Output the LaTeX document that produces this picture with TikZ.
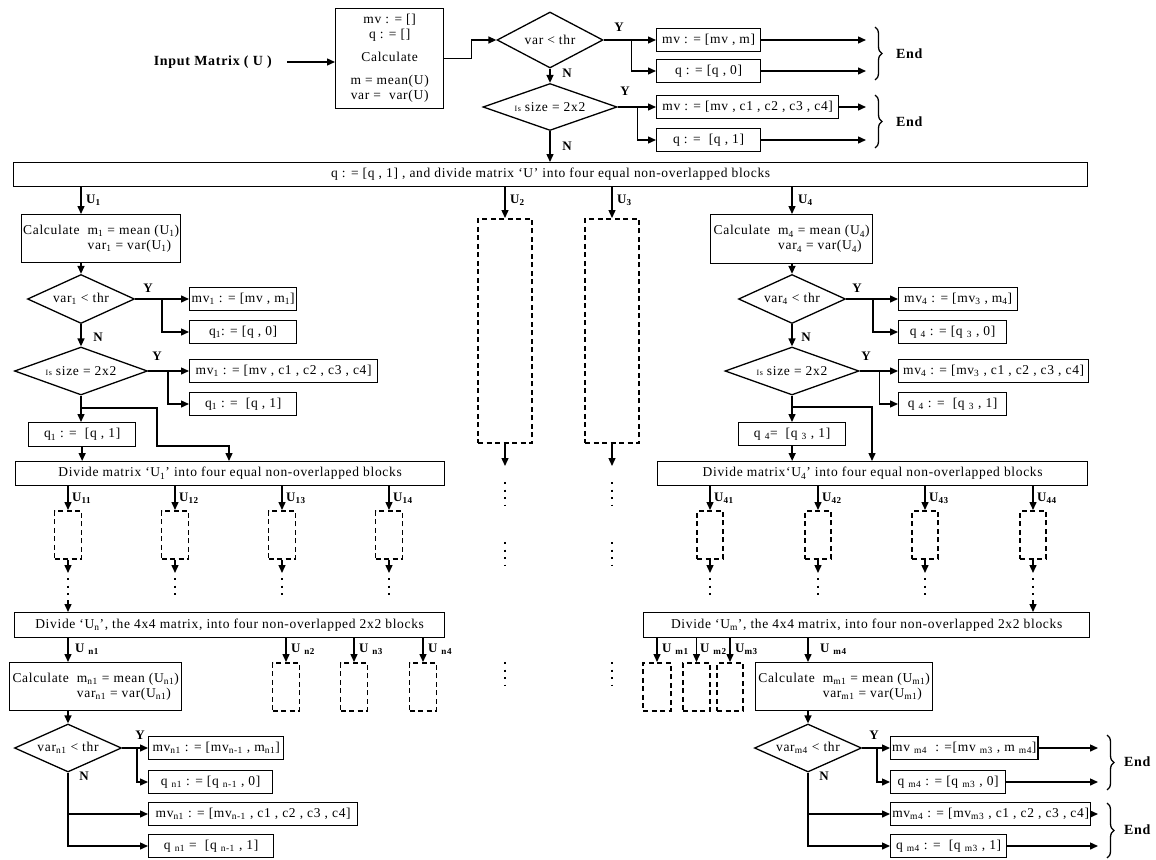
\documentclass[tikz,border=0pt]{standalone}
\usepackage{fontspec}
\setmainfont{Liberation Serif}[LetterSpace=5]
\usetikzlibrary{arrows.meta,shapes.geometric,decorations.pathreplacing,calc}
\newcommand{\sbt}[1]{\textsubscript{#1}}
\newcommand{\smIs}{{\fontsize{8}{9}\selectfont Is}}
\begin{document}
\begin{tikzpicture}[x=1pt,y=-1pt,
 font=\fontsize{13.5}{15}\selectfont,
 every node/.style={inner sep=1pt},
 ln/.style={line width=1.4pt},
 arr/.style={ln,-{Triangle[length=8pt,width=7pt]}},
 bx/.style={draw,line width=1.3pt,inner sep=1.5pt,minimum height=23pt,anchor=west},
 wbox/.style={draw,line width=1.3pt,inner sep=1.5pt,anchor=north west,align=center},
 dia/.style={draw,line width=1.3pt,diamond,inner sep=0pt,aspect=3},
 dbox/.style={draw,line width=1.6pt,dash pattern=on 5pt off 3.5pt,anchor=north,inner sep=0pt},
 lbl/.style={font=\fontsize{13}{15}\selectfont\bfseries,inner sep=0pt},
 dts/.style={line width=2pt,dash pattern=on 2pt off 5.5pt},
 brc/.style={decorate,decoration={brace,amplitude=7pt},line width=1.3pt},
]
\useasboundingbox (0,0) rectangle (1156,859);

% ---------------- top ----------------
\node[lbl,anchor=east,font=\fontsize{14}{16}\selectfont\bfseries] (inp) at (272,62) {Input Matrix ( U )};
\node[wbox,minimum width=108pt,minimum height=100pt] (A) at (335,8)
 {mv : = []\\ q : = []\\[8pt] Calculate\\[8pt] m = mean(U)\\ var = \ var(U)};
\node[dia,minimum width=106pt,minimum height=56pt] (d1) at (550,40) {var < thr};
\node[dia,minimum width=134pt,minimum height=47pt] (d2) at (550,107) {\smIs\ size = 2x2};
\draw[arr] ([xshift=15pt]inp.east) -- (inp.east -| A.west);
\draw[arr] (A.east) -- ++(27,0) |- (d1.west);
\draw[arr] (d1.south) -- (d2.north);
\node[lbl] (n1) at (567,73) {N};
\node[lbl] (y1) at (619,27) {Y};
\node[bx,minimum width=104pt] (mv0) at (656,40) {mv : = [mv , m]};
\node[bx,minimum width=104pt] (q0) at (656,71) {q : = [q , 0]};
\draw[arr] (d1.east) -- (mv0.west);
\draw[arr] ($(d1.east)+(28,0)$) |- (q0.west);
\coordinate (e1) at (866,40); \coordinate (e2) at (866,71);
\draw[arr] (mv0.east) -- (e1);
\draw[arr] (q0.east) -- (e2);
\coordinate (b1t) at (875,27); \coordinate (b1b) at (875,80);
\draw[brc] (b1t) -- (b1b);
\node[lbl,anchor=west,font=\fontsize{14}{16}\selectfont\bfseries] (end1) at (896,54) {End};

\node[lbl] (y2) at (625,91) {Y};
\node[bx,minimum width=182pt] (mc0) at (656,107) {mv : = [mv , c1 , c2 , c3 , c4]};
\node[bx,minimum width=104pt] (q10) at (656,140) {q : = \ [q , 1]};
\draw[arr] (d2.east) -- (mc0.west);
\draw[arr] ($(d2.east)+(20,0)$) |- (q10.west);
\coordinate (e3) at (866,107); \coordinate (e4) at (866,140);
\draw[arr] (mc0.east) -- (e3);
\draw[arr] (q10.east) -- (e4);
\coordinate (b2t) at (875,95); \coordinate (b2b) at (875,148);
\draw[brc] (b2t) -- (b2b);
\node[lbl,anchor=west,font=\fontsize{14}{16}\selectfont\bfseries] (end2) at (896,122) {End};

\node[wbox,minimum width=1074pt,minimum height=24pt] (W) at (13,162)
 {q : = [q , 1] , and divide matrix ‘U’ into four equal non-overlapped blocks};
\draw[arr] (d2.south) -- (d2.south |- W.north);
\node[lbl] (n2) at (567,146) {N};

\coordinate (x1) at (81,0);
\coordinate (x2) at (505,0);
\coordinate (x3) at (612,0);
\coordinate (x4) at (792,0);

% ---------------- U1 column ----------------
\node[wbox,align=left,minimum width=159pt,minimum height=48pt] (c1) at (21,214)
 {Calculate\ \ m\sbt{1} = mean (U\sbt{1})\\ \phantom{Calculate\ \ }var\sbt{1} = var(U\sbt{1})};
\draw[arr] (W.south -| x1) -- (c1.north -| x1);
\node[lbl,anchor=west] (lu1) at (86,200) {U\sbt{1}};

\node[dia,minimum width=107pt,minimum height=49pt] (dv1) at (81,299) {var\sbt{1} < thr};
\draw[arr] (c1.south -| x1) -- (dv1.north);
\node[lbl] (y3) at (148,288) {Y};
\node[bx,minimum width=107pt] (mv1) at (189,299) {mv\sbt{1} : = [mv , m\sbt{1}]};
\node[bx,minimum width=107pt] (q1) at (189,332) {q\sbt{1}: = [q , 0]};
\draw[arr] (dv1.east) -- (mv1.west);
\draw[arr] ($(dv1.east)+(27,0)$) |- (q1.west);
\node[lbl] (n3) at (98,337) {N};

\node[dia,minimum width=133pt,minimum height=48pt] (ds1) at (81,371) {\smIs\ size = 2x2};
\draw[arr] (dv1.south) -- (ds1.north);
\node[lbl] (y4) at (157,356) {Y};
\node[bx,minimum width=188pt] (mc1) at (189,371) {mv\sbt{1} : = [mv , c1 , c2 , c3 , c4]};
\node[bx,minimum width=107pt] (q1b) at (189,404) {q\sbt{1} : = \ [q , 1]};
\draw[arr] (ds1.east) -- (mc1.west);
\draw[arr] ($(ds1.east)+(20,0)$) |- (q1b.west);

\node[wbox,minimum width=107pt,minimum height=24pt] (q1s) at (28,422) {q\sbt{1} : = \ [q , 1]};
\draw[arr] (ds1.south) -- (ds1.south |- q1s.north);
\node[wbox,minimum width=429pt,minimum height=24pt] (D1) at (15,461)
 {Divide matrix ‘U\sbt{1}’ into four equal non-overlapped blocks};
\draw[arr] (q1s.south) -- (q1s.south |- D1.north);
\coordinate (z1) at (81,408);
\draw[arr] (z1) -- (157,408) -- (157,446) -- (229,446) -- ($(D1.north west)+(214,0)$);

\foreach \x/\s in {68/11,175/12,282/13,389/14}{
 \node[dbox,minimum width=27pt,minimum height=48pt] (s\s) at (\x,510) {};
 \draw[arr] (D1.south -| s\s.north) -- (s\s.north);
 \node[lbl,anchor=west] (l\s) at (\x+4,498) {U\sbt{\s}};
 \coordinate (t\s) at (\x,573);
 \draw[arr] (s\s.south) -- (t\s);
 \draw[dts] (\x,578) -- (\x,598);
}

\node[wbox,minimum width=430pt,minimum height=25pt] (Dn) at (14,612)
 {Divide ‘U\sbt{n}’, the 4x4 matrix, into four non-overlapped 2x2 blocks};
\coordinate (f1) at (68,600);
\draw[arr] (f1) -- (f1 |- Dn.north);

\foreach \x/\s in {286/2,354/3,423/4}{
 \node[dbox,minimum width=27pt,minimum height=48pt] (sn\s) at (\x,662) {};
 \draw[arr] (Dn.south -| sn\s.north) -- (sn\s.north);
 \node[lbl,anchor=west] (ln\s) at (\x+5,649) {U \sbt{n\s}};
}

\coordinate (xn) at (68,0);
\node[wbox,align=left,minimum width=172pt,minimum height=48pt] (cn) at (9,662)
 {Calculate\ \ m\sbt{n1} = mean (U\sbt{n1})\\ \phantom{Calculate\ \ }var\sbt{n1} = var(U\sbt{n1})};
\draw[arr] (Dn.south -| xn) -- (cn.north -| xn);
\node[lbl,anchor=west] (lun1) at (75,649) {U \sbt{n1}};

\node[dia,minimum width=107pt,minimum height=48pt] (dn1) at (68,748) {var\sbt{n1} < thr};
\draw[arr] (cn.south -| xn) -- (dn1.north);
\node[lbl] (y5) at (140,735) {Y};
\node[bx,minimum width=135pt] (mvn) at (148,748) {mv\sbt{n1} : = [mv\sbt{n-1} , m\sbt{n1}]};
\node[bx,minimum width=124pt] (qn) at (148,782) {q \sbt{n1} : = [q \sbt{n-1} , 0]};
\draw[arr] (dn1.east) -- (mvn.west);
\draw[arr] ($(dn1.east)+(15,0)$) |- (qn.west);
\node[lbl] (n5) at (84,776) {N};
\node[bx,minimum width=209pt] (mcn) at (148,814) {mv\sbt{n1} : = [mv\sbt{n-1} , c1 , c2 , c3 , c4]};
\node[bx,minimum width=125pt] (qnb) at (148,846) {q \sbt{n1} = \ [q \sbt{n-1} , 1]};
\draw[arr] (dn1.south) |- (mcn.west);
\draw[arr] (dn1.south) |- (qnb.west);

% ---------------- U2 / U3 columns ----------------
\node[dbox,minimum width=54pt,minimum height=224pt] (du2) at (505,218) {};
\node[dbox,minimum width=54pt,minimum height=224pt] (du3) at (612,218) {};
\draw[arr] (W.south -| x2) -- (du2.north);
\draw[arr] (W.south -| x3) -- (du3.north);
\node[lbl,anchor=west] (lu2) at (510,200) {U\sbt{2}};
\node[lbl,anchor=west] (lu3) at (617,200) {U\sbt{3}};
\coordinate (a2) at (505,466); \coordinate (a3) at (612,466);
\draw[arr] (du2.south) -- (a2);
\draw[arr] (du3.south) -- (a3);
\foreach \x in {505,612}{
 \draw[dts] (\x,482) -- (\x,506);
 \draw[dts] (\x,542) -- (\x,566);
 \draw[dts] (\x,662) -- (\x,686);
}

% ---------------- U4 column ----------------
\node[wbox,align=left,minimum width=162pt,minimum height=49pt] (c4) at (710,214)
 {Calculate\ \ m\sbt{4} = mean (U\sbt{4})\\ \phantom{Calculate\ \ }var\sbt{4} = var(U\sbt{4})};
\draw[arr] (W.south -| x4) -- (c4.north -| x4);
\node[lbl,anchor=west] (lu4) at (798,200) {U\sbt{4}};

\node[dia,minimum width=107pt,minimum height=49pt] (dv4) at (792,299) {var\sbt{4} < thr};
\draw[arr] (c4.south -| x4) -- (dv4.north);
\node[lbl] (y6) at (857,288) {Y};
\node[bx,minimum width=119pt] (mv4) at (898,299) {mv\sbt{4} : = [mv\sbt{3} , m\sbt{4}]};
\node[bx,minimum width=108pt] (q4) at (898,332) {q \sbt{4} : = [q \sbt{3} , 0]};
\draw[arr] (dv4.east) -- (mv4.west);
\draw[arr] ($(dv4.east)+(27,0)$) |- (q4.west);
\node[lbl] (n6) at (806,337) {N};

\node[dia,minimum width=134pt,minimum height=48pt] (ds4) at (792,371) {\smIs\ size = 2x2};
\draw[arr] (dv4.south) -- (ds4.north);
\node[lbl] (y7) at (866,356) {Y};
\node[bx,minimum width=190pt] (mc4) at (898,371) {mv\sbt{4} : = [mv\sbt{3} , c1 , c2 , c3 , c4]};
\node[bx,minimum width=108pt] (q4b) at (898,404) {q \sbt{4} : = \ [q \sbt{3} , 1]};
\draw[arr] (ds4.east) -- (mc4.west);
\draw[arr] ($(ds4.east)+(20,0)$) |- (q4b.west);

\node[wbox,minimum width=107pt,minimum height=23pt] (q4s) at (738,422) {q \sbt{4}= \ [q \sbt{3} , 1]};
\draw[arr] (ds4.south) -- (ds4.south |- q4s.north);
\node[wbox,minimum width=430pt,minimum height=24pt] (D4) at (657,461)
 {Divide matrix‘U\sbt{4}’ into four equal non-overlapped blocks};
\draw[arr] (q4s.south) -- (q4s.south |- D4.north);
\coordinate (z4) at (792,407);
\draw[arr] (z4) -| ($(D4.north west)+(215,0)$);

\foreach \x/\s in {710/41,818/42,925/43,1033/44}{
 \node[dbox,minimum width=26pt,minimum height=48pt] (s\s) at (\x,510) {};
 \draw[arr] (D4.south -| s\s.north) -- (s\s.north);
 \node[lbl,anchor=west] (l\s) at (\x+4,498) {U\sbt{\s}};
 \coordinate (t\s) at (\x,573);
 \draw[arr] (s\s.south) -- (t\s);
 \draw[dts] (\x,578) -- (\x,598);
}

\node[wbox,minimum width=446pt,minimum height=25pt] (Dm) at (643,612)
 {Divide ‘U\sbt{m}’, the 4x4 matrix, into four non-overlapped 2x2 blocks};
\coordinate (f4) at (1033,600);
\draw[arr] (f4) -- (f4 |- Dm.north);

\node[dbox,minimum width=28pt,minimum height=48pt] (sm1) at (657,662) {};
\node[dbox,minimum width=27pt,minimum height=48pt] (sm2) at (696.5,662) {};
\node[dbox,minimum width=26pt,minimum height=48pt] (sm3) at (730,662) {};
\foreach \s in {1,2,3}{ \draw[arr] (Dm.south -| sm\s.north) -- (sm\s.north); }
\node[lbl,anchor=west] (lm1) at (662,649) {U \sbt{m1}};
\node[lbl,anchor=west] (lm2) at (700,649) {U \sbt{m2}};
\node[lbl,anchor=west] (lm3) at (735,649) {U\sbt{m3}};

\coordinate (xm) at (808,0);
\node[wbox,align=left,minimum width=177pt,minimum height=48pt] (cm) at (755,662)
 {Calculate\ \ m\sbt{m1} = mean (U\sbt{m1})\\ \phantom{Calculate\ \ }var\sbt{m1} = var(U\sbt{m1})};
\draw[arr] (Dm.south -| xm) -- (cm.north -| xm);
\node[lbl,anchor=west] (lm4) at (820,649) {U \sbt{m4}};

\node[dia,minimum width=107pt,minimum height=48pt] (dm4) at (808,748) {var\sbt{m4} < thr};
\draw[arr] (cm.south -| xm) -- (dm4.north);
\node[lbl] (y8) at (874,735) {Y};
\node[bx,minimum width=127pt] (mvm) at (890,748) {mv \sbt{m4}\ \ : =[mv \sbt{m3} , m \sbt{m4}]};
\node[bx,minimum width=115pt] (qm) at (890,782) {q \sbt{m4} : = [q \sbt{m3} , 0]};
\draw[arr] (dm4.east) -- (mvm.west);
\draw[arr] ($(dm4.east)+(15,0)$) |- (qm.west);
\node[lbl] (n8) at (824,776) {N};
\node[bx,minimum width=200pt] (mcm) at (890,814) {mv\sbt{m4} : = [mv\sbt{m3} , c1 , c2 , c3 , c4]};
\node[bx,minimum width=116pt] (qmb) at (890,846) {q \sbt{m4} : = \ [q \sbt{m3} , 1]};
\draw[arr] (dm4.south) |- (mcm.west);
\draw[arr] (dm4.south) |- (qmb.west);
\coordinate (em1) at (1098,748); \coordinate (em2) at (1098,782);
\coordinate (em3) at (1098,814); \coordinate (em4) at (1098,846);
\draw[arr] (mvm.east) -- (em1);
\draw[arr] (qm.east) -- (em2);
\draw[arr] (mcm.east) -- (em3);
\draw[arr] (qmb.east) -- (em4);
\coordinate (b3t) at (1107,735); \coordinate (b3b) at (1107,790);
\coordinate (b4t) at (1107,803); \coordinate (b4b) at (1107,858);
\draw[brc] (b3t) -- (b3b);
\draw[brc] (b4t) -- (b4b);
\node[lbl,anchor=west,font=\fontsize{14}{16}\selectfont\bfseries] (end3) at (1124,762) {End};
\node[lbl,anchor=west,font=\fontsize{14}{16}\selectfont\bfseries] (end4) at (1124,830) {End};
\end{tikzpicture}
\end{document}
